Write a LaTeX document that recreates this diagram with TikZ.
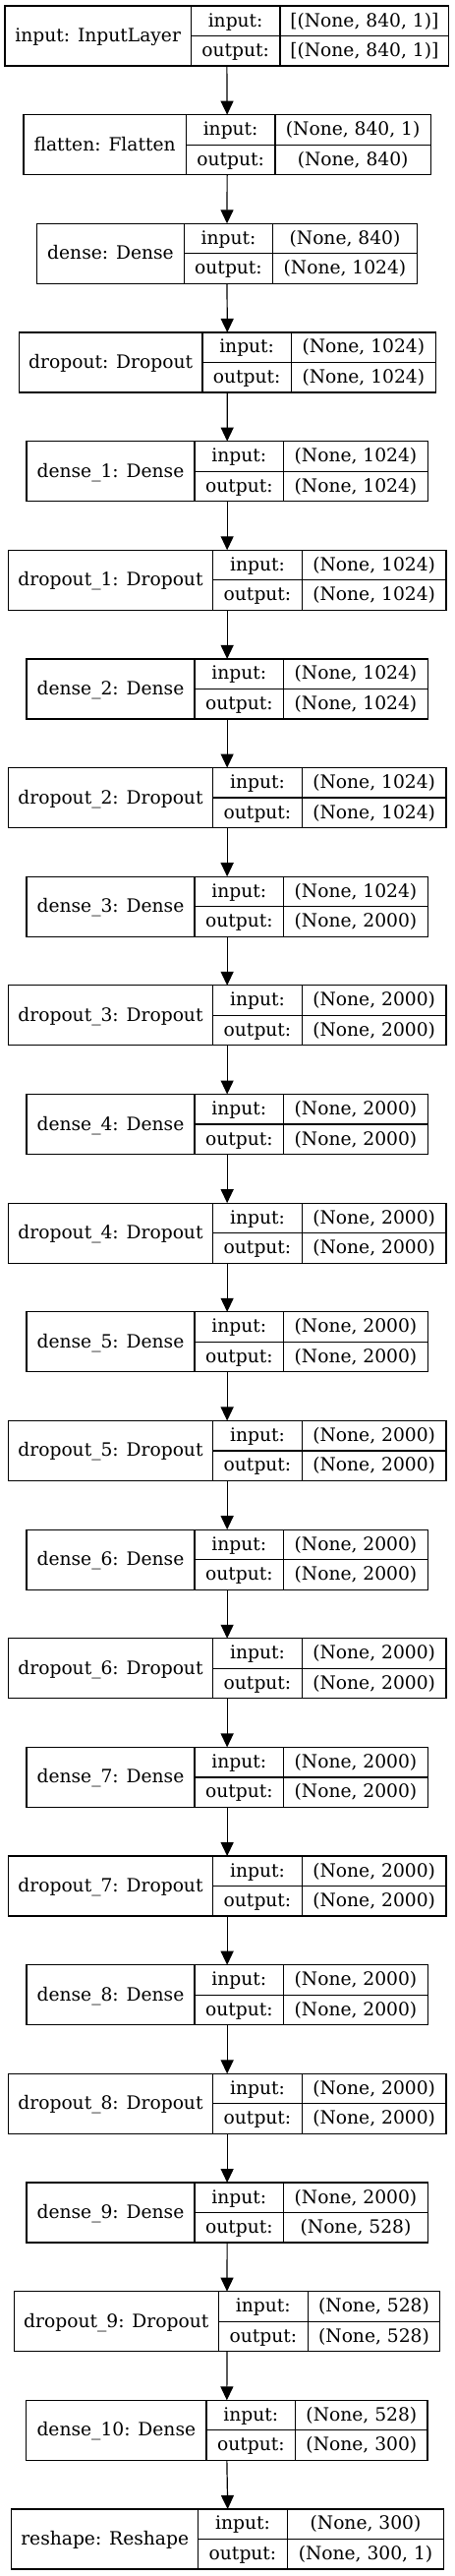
\documentclass[tikz,border=0pt]{standalone}
\usepackage{fontspec}
\setmainfont{DejaVu Serif}
\usetikzlibrary{arrows.meta}
\tikzset{
  box/.style={draw, line width=1.2pt, inner sep=0pt, outer sep=0pt, anchor=north west, minimum height=61pt},
  sep/.style={line width=1.2pt},
  txt/.style={anchor=base, inner sep=0pt, font=\fontsize{18.67}{22}\selectfont},
  arr/.style={-{Triangle[length=14pt,width=13pt]}, line width=1.2pt}
}
% #1 name, #2 row index, #3 L, #4 D1, #5 D2, #6 R, #7 label, #8 in, #9 out
\newcommand\layerbox[9]{%
  \pgfmathsetmacro\rowtop{6+#2*110.65}%
  \node[box, minimum width={#6pt-#3pt}] (#1) at (#3,-\rowtop) {};
  \draw[sep] (#4,-\rowtop) -- (#4,{-\rowtop-61});
  \draw[sep] (#5,-\rowtop) -- (#5,{-\rowtop-61});
  \draw[sep] (#4,{-\rowtop-30.5}) -- (#6,{-\rowtop-30.5});
  \node[txt] (#1-name) at ({(#3+#4)/2},{-\rowtop-36.5}) {#7};
  \node[txt] (#1-inl) at ({(#4+#5)/2},{-\rowtop-21}) {input:};
  \node[txt] (#1-outl) at ({(#4+#5)/2},{-\rowtop-51.5}) {output:};
  \node[txt] (#1-inv) at ({(#5+#6)/2},{-\rowtop-21}) {#8};
  \node[txt] (#1-outv) at ({(#5+#6)/2},{-\rowtop-51.5}) {#9};
}
\begin{document}
\begin{tikzpicture}[x=1pt,y=1pt]
\useasboundingbox (0,0) rectangle (463,-2619);
\layerbox{n0}{0}{5}{194.3}{285}{456.7}{input: InputLayer}{[(None, 840, 1)]}{[(None, 840, 1)]}
\layerbox{n1}{1}{24}{189.3}{280}{438.3}{flatten: Flatten}{(None, 840, 1)}{(None, 840)}
\layerbox{n2}{2}{37.7}{187.3}{277.7}{424.3}{dense: Dense}{(None, 840)}{(None, 1024)}
\layerbox{n3}{3}{19.3}{206}{296.3}{443.3}{dropout: Dropout}{(None, 1024)}{(None, 1024)}
\layerbox{n4}{4}{27}{198}{288.7}{435.3}{dense\_1: Dense}{(None, 1024)}{(None, 1024)}
\layerbox{n5}{5}{8.3}{216.7}{307.3}{454}{dropout\_1: Dropout}{(None, 1024)}{(None, 1024)}
\layerbox{n6}{6}{27}{198}{288.7}{435.3}{dense\_2: Dense}{(None, 1024)}{(None, 1024)}
\layerbox{n7}{7}{8.3}{216.7}{307.3}{454}{dropout\_2: Dropout}{(None, 1024)}{(None, 1024)}
\layerbox{n8}{8}{27}{198}{288.7}{435.3}{dense\_3: Dense}{(None, 1024)}{(None, 2000)}
\layerbox{n9}{9}{8.3}{216.7}{307.3}{454}{dropout\_3: Dropout}{(None, 2000)}{(None, 2000)}
\layerbox{n10}{10}{27}{198}{288.7}{435.3}{dense\_4: Dense}{(None, 2000)}{(None, 2000)}
\layerbox{n11}{11}{8.3}{216.7}{307.3}{454}{dropout\_4: Dropout}{(None, 2000)}{(None, 2000)}
\layerbox{n12}{12}{27}{198}{288.7}{435.3}{dense\_5: Dense}{(None, 2000)}{(None, 2000)}
\layerbox{n13}{13}{8.3}{216.7}{307.3}{454}{dropout\_5: Dropout}{(None, 2000)}{(None, 2000)}
\layerbox{n14}{14}{27}{198}{288.7}{435.3}{dense\_6: Dense}{(None, 2000)}{(None, 2000)}
\layerbox{n15}{15}{8.3}{216.7}{307.3}{454}{dropout\_6: Dropout}{(None, 2000)}{(None, 2000)}
\layerbox{n16}{16}{27}{198}{288.7}{435.3}{dense\_7: Dense}{(None, 2000)}{(None, 2000)}
\layerbox{n17}{17}{8.3}{216.7}{307.3}{454}{dropout\_7: Dropout}{(None, 2000)}{(None, 2000)}
\layerbox{n18}{18}{27}{198}{288.7}{435.3}{dense\_8: Dense}{(None, 2000)}{(None, 2000)}
\layerbox{n19}{19}{8.3}{216.7}{307.3}{454}{dropout\_8: Dropout}{(None, 2000)}{(None, 2000)}
\layerbox{n20}{20}{27}{198}{288.7}{435.3}{dense\_9: Dense}{(None, 2000)}{(None, 528)}
\layerbox{n21}{21}{14.3}{222.3}{313.3}{447.7}{dropout\_9: Dropout}{(None, 528)}{(None, 528)}
\layerbox{n22}{22}{26.7}{210}{300.7}{435}{dense\_10: Dense}{(None, 528)}{(None, 300)}
\layerbox{n23}{23}{11.7}{201.7}{292.3}{451.7}{reshape: Reshape}{(None, 300)}{(None, 300, 1)}
\foreach \i [evaluate=\i as \j using int(\i+1)] in {0,...,22}
  \draw[arr] (n\i.south) -- (n\j.north);
\end{tikzpicture}
\end{document}
